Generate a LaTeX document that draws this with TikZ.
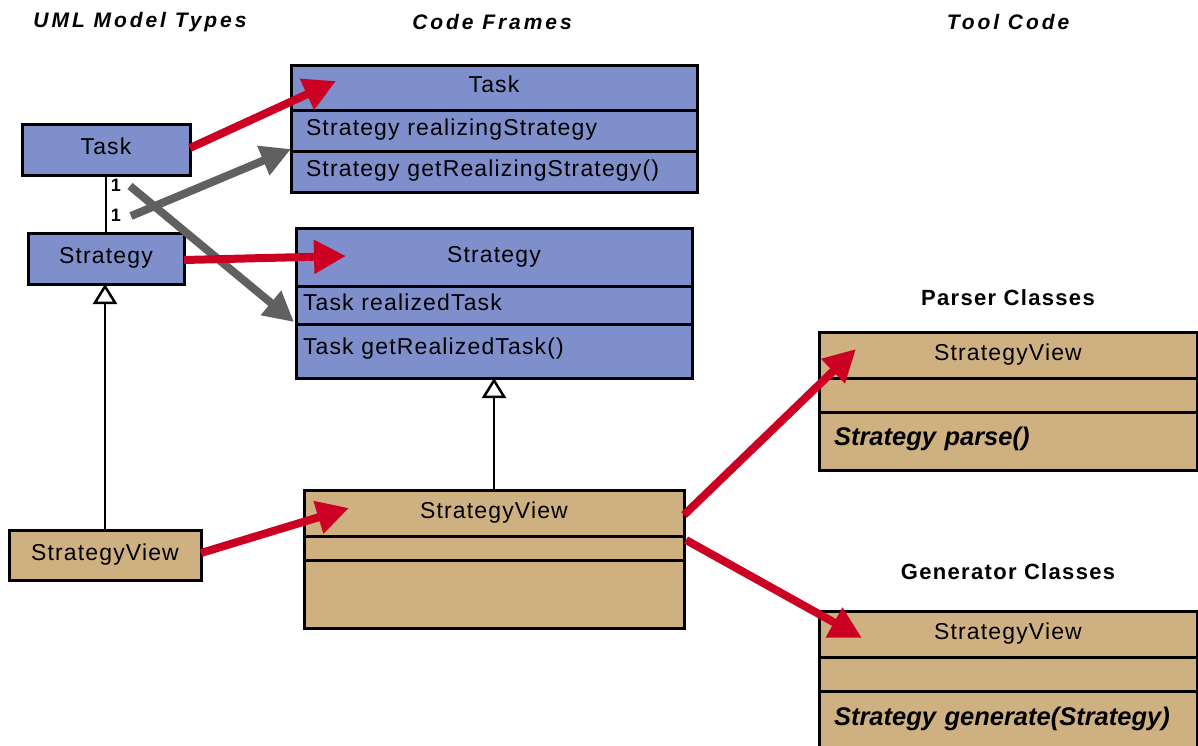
\documentclass[tikz,border=0pt]{standalone}
\usepackage{fontspec}
\setmainfont{Liberation Sans}
\newfontfamily\titlefont[LetterSpace=14]{Liberation Sans}
\newfontfamily\headfont[LetterSpace=6]{Liberation Sans}
\newfontfamily\boxfont[LetterSpace=5]{Liberation Sans}
\usetikzlibrary{arrows.meta}
\definecolor{umlblue}{RGB}{127,143,204}
\definecolor{umltan}{RGB}{207,176,128}
\definecolor{arrred}{RGB}{204,0,34}
\definecolor{arrgray}{RGB}{96,96,96}
\tikzset{
  comp/.style={draw=black, line width=3pt, anchor=north west, inner ysep=0pt, inner xsep=10pt, outer sep=0pt,
    font=\boxfont\fontsize{23}{27}\selectfont, text height=16pt, text depth=6pt},
  bluebox/.style={comp, fill=umlblue},
  tanbox/.style={comp, fill=umltan},
  small/.style={align=center},
  hdr/.style={align=center},
  row/.style={align=left},
  opfont/.style={font=\fontsize{25.5}{29}\selectfont\bfseries\itshape},
  redarrow/.style={draw=arrred, line width=8pt, -{Triangle[length=32pt,width=32pt]}},
  grayarrow/.style={draw=arrgray, line width=8pt, -{Triangle[length=30pt,width=30pt]}},
  gen/.style={draw=black, line width=2.5pt, -{Triangle[open, length=20pt, width=24pt, fill=white]}},
  assoc/.style={draw=black, line width=2.5pt},
  coltitle/.style={font=\titlefont\fontsize{21}{25}\selectfont\bfseries\itshape},
  grptitle/.style={font=\headfont\fontsize{22}{26}\selectfont\bfseries},
  mult/.style={font=\fontsize{18}{20}\selectfont\bfseries, inner sep=0pt}
}
\begin{document}
\begin{tikzpicture}[x=1pt,y=-1pt]
\useasboundingbox (0,0) rectangle (1198,745);
\clip (0,0) rectangle (1198,745);
\fill[white] (0,0) rectangle (1198,745);

% column titles
\node[coltitle] (t1) at (140,22) {UML Model Types};
\node[coltitle] (t2) at (492,22) {Code Frames};
\node[coltitle] (t3) at (1008,22) {Tool Code};
\node[grptitle] (g1) at (1008,298) {Parser Classes};
\node[grptitle] (g2) at (1008,572) {Generator Classes};

% UML model types
\node[bluebox, small, minimum width=168pt, minimum height=51pt, text width=148pt] (tS) at (22,124) {Task};
\node[bluebox, small, minimum width=156pt, minimum height=51pt, text width=136pt] (sS) at (28,233) {Strategy};
\node[tanbox, small, minimum width=192pt, minimum height=50pt, text width=172pt] (svS) at (9,530) {StrategyView};

% Task code frame
\node[bluebox, hdr, minimum width=406pt, minimum height=45pt, text width=386pt] (tFh) at (291,65) {Task};
\node[bluebox, row, minimum width=406pt, minimum height=41pt, inner xsep=15pt, text width=376pt] (tF1) at (291,110) {Strategy realizingStrategy};
\node[bluebox, row, minimum width=406pt, minimum height=41pt, inner xsep=15pt, text width=376pt] (tF2) at (291,151) {Strategy getRealizingStrategy()};

% Strategy code frame
\node[bluebox, hdr, minimum width=396pt, minimum height=58pt, text width=376pt] (sFh) at (296,228) {Strategy};
\node[bluebox, row, minimum width=396pt, minimum height=38pt, inner xsep=7pt, text width=382pt] (sF1) at (296,286) {Task realizedTask};
\node[bluebox, row, minimum width=396pt, minimum height=54pt, inner xsep=7pt, text width=382pt, text depth=9.5pt] (sF2) at (296,324) {Task getRealizedTask()};

% StrategyView code frame
\node[tanbox, hdr, minimum width=380pt, minimum height=46pt, text width=360pt] (vFh) at (304,490) {StrategyView};
\node[tanbox, minimum width=380pt, minimum height=24pt, text height=0pt, text depth=0pt] (vF1) at (304,536) {};
\node[tanbox, minimum width=380pt, minimum height=68pt] (vF2) at (304,560) {};

% Parser class
\node[tanbox, hdr, minimum width=378pt, minimum height=46pt, text width=358pt] (pFh) at (819,332) {StrategyView};
\node[tanbox, minimum width=378pt, minimum height=34pt] (pF1) at (819,378) {};
\node[tanbox, row, opfont, minimum width=378pt, minimum height=58pt, inner xsep=15pt, text width=348pt, text depth=8pt] (pF2) at (819,412) {Strategy parse()};

% Generator class
\node[tanbox, hdr, minimum width=378pt, minimum height=46pt, text width=358pt] (gFh) at (819,611) {StrategyView};
\node[tanbox, minimum width=378pt, minimum height=34pt] (gF1) at (819,657) {};
\node[tanbox, row, opfont, minimum width=378pt, minimum height=70pt, inner xsep=15pt, text width=348pt, text depth=18pt] (gF2) at (819,691) {Strategy generate(Strategy)};

% UML relations
\draw[assoc] (tS.south) -- (sS.north);
\node[mult] (m1) at (116,185) {1};
\node[mult] (m2) at (116,215) {1};
\draw[gen] (svS.north) -- (svS.north |- sS.south);
\draw[gen] (vFh.north) -- (vFh.north |- sF2.south);

% arrow coordinates
\coordinate (r1s) at (190,148);
\coordinate (r1e) at (336,81);
\coordinate (r2s) at (184,260);
\coordinate (r2e) at (346,256);
\coordinate (r3s) at (201,553);
\coordinate (r3e) at (349,508);
\coordinate (r4s) at (684,515);
\coordinate (r4e) at (856,349);
\coordinate (r5s) at (686,540);
\coordinate (r5e) at (862,638);
\coordinate (g1s) at (131,216);
\coordinate (g1e) at (291,149);
\coordinate (g2s) at (130,186);
\coordinate (g2e) at (294,322);

\draw[grayarrow] (g1s) -- (g1e);
\draw[grayarrow] (g2s) -- (g2e);
\draw[redarrow] (r1s) -- (r1e);
\draw[redarrow] (r2s) -- (r2e);
\draw[redarrow] (r3s) -- (r3e);
\draw[redarrow] (r4s) -- (r4e);
\draw[redarrow] (r5s) -- (r5e);
\end{tikzpicture}
\end{document}
